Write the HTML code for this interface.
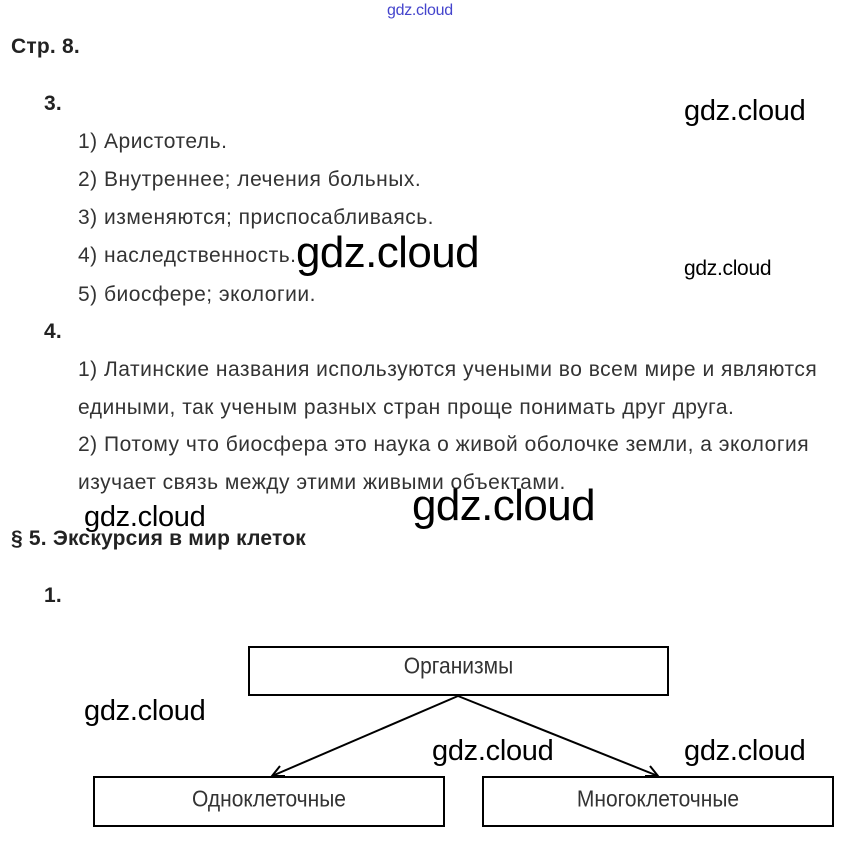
<!DOCTYPE html>
<html><head><meta charset="utf-8"><style>
body{margin:0;width:851px;height:847px;background:#fff;position:relative;overflow:hidden;font-family:"Liberation Sans",sans-serif;color:#333}
.t{position:absolute;white-space:nowrap;font-size:21px;line-height:1;letter-spacing:0.5px}
.b{font-weight:bold;color:#222;font-size:21px;letter-spacing:0.2px}
.w{position:absolute;white-space:nowrap;font-family:"Liberation Sans",sans-serif;color:#000;line-height:1;letter-spacing:-0.3px}
.box{position:absolute;border:2px solid #000;box-sizing:border-box;display:flex;align-items:center;justify-content:center;font-size:21px;color:#333}
.box span{display:inline-block;transform:scaleY(1.1)}
</style></head><body>
<div class="w" style="left:387px;top:3px;font-size:16px;color:#4444cc">gdz.cloud</div>
<div class="t b" style="left:11px;top:36px">Стр. 8.</div>
<div class="t b" style="left:44px;top:93px">3.</div>
<div class="t" style="left:78px;top:131px">1) Аристотель.</div>
<div class="t" style="left:78px;top:169px">2) Внутреннее; лечения больных.</div>
<div class="t" style="left:78px;top:207px">3) изменяются; приспосабливаясь.</div>
<div class="t" style="left:78px;top:245px">4) наследственность.</div>
<div class="t" style="left:78px;top:284px">5) биосфере; экологии.</div>
<div class="t b" style="left:44px;top:321px">4.</div>
<div class="t" style="left:78px;top:359px">1) Латинские названия используются учеными во всем мире и являются</div>
<div class="t" style="left:78px;top:397px">едиными, так ученым разных стран проще понимать друг друга.</div>
<div class="t" style="left:78px;top:434px">2) Потому что биосфера это наука о живой оболочке земли, а экология</div>
<div class="t" style="left:78px;top:472px">изучает связь между этими живыми объектами.</div>
<div class="t b" style="left:11px;top:528px">§ 5. Экскурсия в мир клеток</div>
<div class="t b" style="left:44px;top:585px">1.</div>
<div class="w" style="left:684px;top:97px;font-size:29px">gdz.cloud</div>
<div class="w" style="left:296px;top:231px;font-size:44px;letter-spacing:-0.6px">gdz.cloud</div>
<div class="w" style="left:684px;top:258px;font-size:21px">gdz.cloud</div>
<div class="w" style="left:84px;top:503px;font-size:29px">gdz.cloud</div>
<div class="w" style="left:412px;top:484px;font-size:44px;letter-spacing:-0.6px">gdz.cloud</div>
<div class="w" style="left:84px;top:697px;font-size:29px">gdz.cloud</div>
<div class="w" style="left:432px;top:737px;font-size:29px">gdz.cloud</div>
<div class="w" style="left:684px;top:737px;font-size:29px">gdz.cloud</div>
<div class="box" style="left:248px;top:646px;width:421px;height:50px;padding-bottom:8px"><span>Организмы</span></div>
<div class="box" style="left:93px;top:776px;width:352px;height:51px;padding-bottom:4px"><span>Одноклеточные</span></div>
<div class="box" style="left:482px;top:776px;width:352px;height:51px;padding-bottom:4px"><span>Многоклеточные</span></div>
<svg style="position:absolute;left:0;top:0" width="851" height="847">
<g stroke="#000" stroke-width="2" fill="none">
<line x1="458" y1="696" x2="272" y2="776"/>
<line x1="458" y1="696" x2="658" y2="776"/>
<polyline points="280,766 272,776 285,776"/>
<polyline points="650,766 658,776 645,776"/>
</g></svg>
</body></html>
